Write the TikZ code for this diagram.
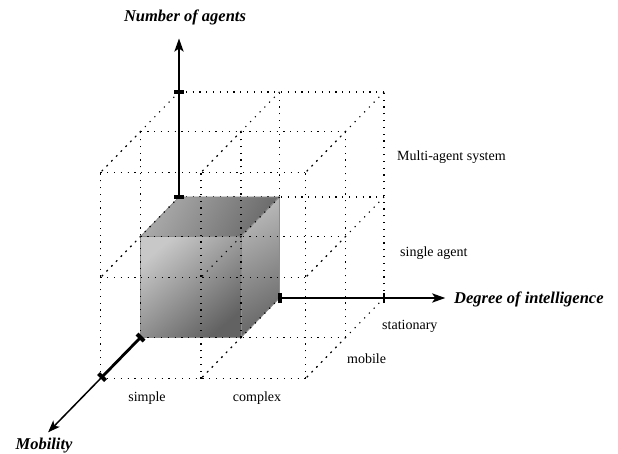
\documentclass[tikz,border=0pt]{standalone}
\usepackage{fontspec}
\setmainfont{Liberation Serif}
\usetikzlibrary{arrows.meta}
\definecolor{facehi}{HTML}{C8C8C8}
\definecolor{facelo}{HTML}{626262}
\definecolor{tophi}{HTML}{ABABAB}
\definecolor{toplo}{HTML}{6A6A6A}
\definecolor{sidehi}{HTML}{B8B8B8}
\definecolor{sidelo}{HTML}{686868}
\definecolor{cubeline}{HTML}{8C8C8C}
\tikzset{
  lattice/.style={draw=black, line width=1.1pt, dash pattern=on 1.2pt off 5.6pt},
  cubeface/.style={draw=cubeline, line width=0.8pt, line join=round},
  axisline/.style={line width=2.8pt},
  thinaxis/.style={line width=1.5pt},
  axishead/.style={-{Stealth[length=13pt,width=9pt,inset=3pt]}},
  tickbar/.style={line width=2.2pt},
  endbar/.style={line width=4pt},
  tag/.style={font=\fontsize{14}{16}\selectfont, inner sep=0pt},
  axtitle/.style={font=\fontsize{16.5}{19}\selectfont\bfseries\itshape, inner sep=0pt}
}
\def\M{2.04}
\begin{document}
\begin{tikzpicture}
\useasboundingbox (0pt,0pt) rectangle (618pt,-454pt);

\begin{scope}[shift={(179pt,-298pt)}, x={(100.5pt,0pt)}, y={(0pt,101pt)}, z={(-38.5pt,-39.5pt)}]
  % full dotted lattice
  \foreach \a in {0,1,\M}{\foreach \b in {0,1,\M}{
    \draw[lattice] (0,\a,\b) -- (\M,\a,\b);
    \draw[lattice] (\a,0,\b) -- (\a,\M,\b);
  }}
  \foreach \a in {0,1,\M}{\foreach \b in {0,1,\M}{
    \draw[lattice] (\a,\b,0) -- (\a,\b,\M);
  }}

  % the shaded unit cube
  \shade[cubeface, top color=tophi, bottom color=toplo, shading angle=60]
    (0,1,1) -- (1,1,1) -- (1,1,0) -- (0,1,0) -- cycle;
  \shade[cubeface, top color=sidehi, bottom color=sidelo, shading angle=30]
    (1,0,1) -- (1,0,0) -- (1,1,0) -- (1,1,1) -- cycle;
  \shade[cubeface, top color=facehi, bottom color=facelo, shading angle=40]
    (0,0,1) -- (1,0,1) -- (1,1,1) -- (0,1,1) -- cycle;

  % lattice lines lying in front of the cube
  \foreach \a in {0,1,\M}{\foreach \b in {1,\M}{
    \draw[lattice] (0,\a,\b) -- (\M,\a,\b);
    \draw[lattice] (\a,0,\b) -- (\a,\M,\b);
  }}
  \foreach \a in {0,1,\M}{\foreach \b in {0,1,\M}{
    \draw[lattice] (\a,\b,1) -- (\a,\b,\M);
  }}
  \draw[lattice] (0,1,0) -- (0,1,1);
  \draw[lattice] (1,1,0) -- (1,1,1);
  \draw[lattice] (1,0,0) -- (1,0,1);

  % axis anchor points
  \coordinate (nstart) at (0,1,0);
  \coordinate (ntick) at (0,\M,0);
  \coordinate (ntip) at (0,2.57,0);
  \coordinate (istart) at (1,0,0);
  \coordinate (itick) at (\M,0,0);
  \coordinate (itip) at (2.65,0,0);
  \coordinate (mstart) at (0,0,1);
  \coordinate (mtick) at (0,0,2);
  \coordinate (mtip) at (0,0,3.4);
\end{scope}

% axes
\draw[axisline, axishead] (nstart) -- (ntip);
\draw[endbar] ([xshift=-5pt]nstart) -- ([xshift=5pt]nstart);
\draw[endbar] ([xshift=-5pt]ntick) -- ([xshift=5pt]ntick);

\draw[axisline, axishead] (istart) -- (itip);
\draw[endbar] ([yshift=-5pt]istart) -- ([yshift=5pt]istart);
\draw[tickbar] ([yshift=-5pt]itick) -- ([yshift=5pt]itick);

\draw[axisline] (mstart) -- (mtick);
\draw[thinaxis, -{Stealth[length=12pt,width=9pt,inset=3pt]}] (mtick) -- (mtip);
\draw[endbar] ([shift={(-3.5pt,3.5pt)}]mstart) -- ([shift={(3.5pt,-3.5pt)}]mstart);
\draw[endbar] ([shift={(-3.5pt,3.5pt)}]mtick) -- ([shift={(3.5pt,-3.5pt)}]mtick);

% axis titles
\node[axtitle] (tnum) at (185pt,-17pt) {Number of agents};
\node[axtitle, anchor=west] (tint) at (454pt,-299pt) {Degree of intelligence};
\node[axtitle] (tmob) at (44pt,-446pt) {Mobility};

% value labels
\node[tag, anchor=west] (lmas) at (397pt,-157pt) {Multi-agent system};
\node[tag, anchor=west] (lsa) at (400pt,-253pt) {single agent};
\node[tag, anchor=west] (lsta) at (382pt,-326pt) {stationary};
\node[tag, anchor=west] (lmob) at (347pt,-359pt) {mobile};
\node[tag] (lsim) at (147pt,-398pt) {simple};
\node[tag] (lcom) at (257pt,-398pt) {complex};
\end{tikzpicture}
\end{document}
